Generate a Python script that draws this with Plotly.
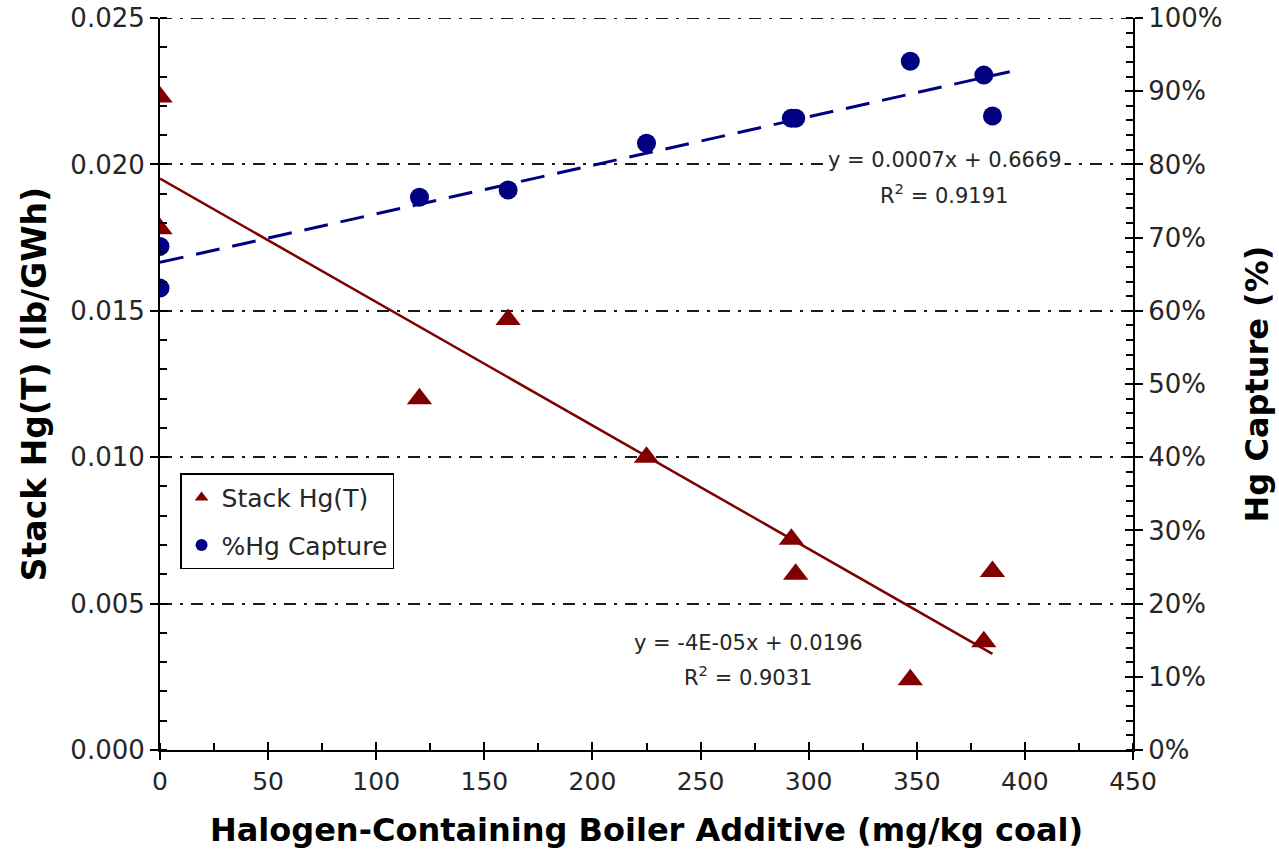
import numpy as np
import plotly.graph_objects as go

# Boiler additive dose (mg/kg coal) for each test condition
additive = [0, 0, 120, 161, 225, 292, 294, 347, 381, 385]
# Stack total mercury (lb/GWh)
stack_hg = [0.0223, 0.0178, 0.0120, 0.0147, 0.0100, 0.0072, 0.0060, 0.0024, 0.0037, 0.0061]
# Mercury capture (fraction)
hg_capture = [0.688, 0.631, 0.755, 0.765, 0.829, 0.863, 0.863, 0.941, 0.922, 0.866]

# extent of each linear trend line along the additive axis
stack_trend_x = [0, 385]
capture_trend_x = [0, 393]

eq_stack = ["y = -4E-05x + 0.0196", "R<sup>2</sup> = 0.9031"]
eq_capture = ["y = 0.0007x + 0.6669", "R<sup>2</sup> = 0.9191"]

RED = "#800000"
NAVY = "#000080"
FONT = "DejaVu Sans"
TXT = "#262626"
GRID_DASH = "12px,8px,3px,8px"
Y_MAX = 0.025

# least-squares fits
ms, bs = np.polyfit(additive, stack_hg, 1)
mc, bc = np.polyfit(additive, hg_capture, 1)
xs = np.array(stack_trend_x, dtype=float)
xc = np.array(capture_trend_x, dtype=float)

fig = go.Figure()

fig.add_trace(go.Scatter(x=xs, y=ms * xs + bs, mode="lines",
                         line=dict(color=RED, width=2.5),
                         showlegend=False, hoverinfo="skip", yaxis="y"))
fig.add_trace(go.Scatter(x=xc, y=mc * xc + bc, mode="lines",
                         line=dict(color=NAVY, width=3, dash="24px,13px"),
                         showlegend=False, hoverinfo="skip", yaxis="y2"))

fig.add_trace(go.Scatter(x=additive, y=stack_hg, mode="markers", name="Stack Hg(T)",
                         legendgroup="a",
                         marker=dict(symbol="triangle-up", size=22, color=RED),
                         yaxis="y"))
fig.add_trace(go.Scatter(x=additive, y=hg_capture, mode="markers", name="%Hg Capture",
                         legendgroup="b",
                         marker=dict(symbol="circle", size=19, color=NAVY),
                         yaxis="y2"))

# empty traces so the overlay tick axes are laid out
fig.add_trace(go.Scatter(x=[], y=[], xaxis="x2", yaxis="y3", showlegend=False))
fig.add_trace(go.Scatter(x=[], y=[], xaxis="x2", yaxis="y4", showlegend=False))

xtickfont = dict(family=FONT, size=25, color=TXT)
ytickfont = dict(family=FONT, size=26, color=TXT)

fig.update_layout(
    width=1279, height=860,
    margin=dict(l=160, r=146, t=18, b=110),
    paper_bgcolor="white", plot_bgcolor="white",
    font=dict(family=FONT, color=TXT),
    xaxis=dict(range=[0, 450], dtick=50, tick0=0, automargin=False,
               ticks="outside", ticklen=8, tickwidth=2, tickcolor="black",
               minor=dict(dtick=25, ticks="inside", ticklen=7, tickwidth=2, tickcolor="black"),
               showline=True, linewidth=2, linecolor="black",
               showgrid=False, zeroline=False, tickfont=xtickfont,
               title=dict(text="<b>Halogen-Containing Boiler Additive (mg/kg coal)</b>",
                          font=dict(family=FONT, size=32, color="#000000"), standoff=24)),
    xaxis2=dict(range=[0, 450], dtick=50, tick0=0, overlaying="x", anchor="y3", side="bottom",
                automargin=False,
                ticks="inside", ticklen=8, tickwidth=2, tickcolor="black",
                showticklabels=False, showline=False, showgrid=False, zeroline=False),
    yaxis=dict(range=[0, Y_MAX], dtick=0.005, tick0=0, tickformat=".3f", automargin=False,
               ticks="outside", ticklen=8, tickwidth=2, tickcolor="black",
               minor=dict(dtick=0.001, ticks="inside", ticklen=7, tickwidth=2, tickcolor="black"),
               showline=True, linewidth=2, linecolor="black",
               showgrid=True, gridcolor="#1a1a1a", gridwidth=1.6, griddash=GRID_DASH,
               zeroline=False, tickfont=ytickfont,
               title=dict(text="<b>Stack Hg(T) (lb/GWh)</b>",
                          font=dict(family=FONT, size=33, color="#000000"), standoff=14)),
    yaxis2=dict(range=[0, 1], dtick=0.1, tick0=0, tickformat=".0%", overlaying="y", side="right",
                automargin=False,
                ticks="outside", ticklen=8, tickwidth=2, tickcolor="black",
                minor=dict(dtick=0.02, ticks="inside", ticklen=7, tickwidth=2, tickcolor="black"),
                showline=True, linewidth=2, linecolor="black",
                showgrid=False, zeroline=False, tickfont=ytickfont,
                title=dict(text="<b>Hg Capture (%)</b>",
                           font=dict(family=FONT, size=32, color="#000000"), standoff=24)),
    yaxis3=dict(range=[0, Y_MAX], dtick=0.005, tick0=0, overlaying="y", side="left", anchor="x2",
                automargin=False,
                ticks="inside", ticklen=8, tickwidth=2, tickcolor="black",
                showticklabels=False, showline=False, showgrid=False, zeroline=False),
    yaxis4=dict(range=[0, 1], dtick=0.1, tick0=0, overlaying="y", side="right", anchor="free",
                position=1.0, automargin=False,
                ticks="inside", ticklen=8, tickwidth=2, tickcolor="black",
                showticklabels=False, showline=False, showgrid=False, zeroline=False),
    legend=dict(x=0.0206, y=0.378, xanchor="left", yanchor="top",
                bgcolor="white", bordercolor="black", borderwidth=1.5,
                font=dict(family=FONT, size=25, color=TXT),
                itemsizing="constant", tracegroupgap=12),
    showlegend=True,
)

# dash-dot rule along the top edge of the plot (gridline at the axis maximum)
fig.add_shape(type="line", xref="paper", x0=0, x1=1, yref="y", y0=Y_MAX, y1=Y_MAX,
              line=dict(color="#1a1a1a", width=2.2, dash=GRID_DASH), layer="below")

def eq_note(text, x, y):
    fig.add_annotation(text=text, xref="paper", yref="paper", x=x, y=y,
                       xanchor="center", yanchor="middle", showarrow=False,
                       font=dict(family=FONT, size=21, color=TXT),
                       bgcolor="white", borderpad=2)

eq_note(eq_capture[0], 0.807, 0.806)
eq_note(eq_capture[1], 0.806, 0.760)
eq_note(eq_stack[0], 0.605, 0.146)
eq_note(eq_stack[1], 0.604, 0.101)

fig.write_html("out.html")
